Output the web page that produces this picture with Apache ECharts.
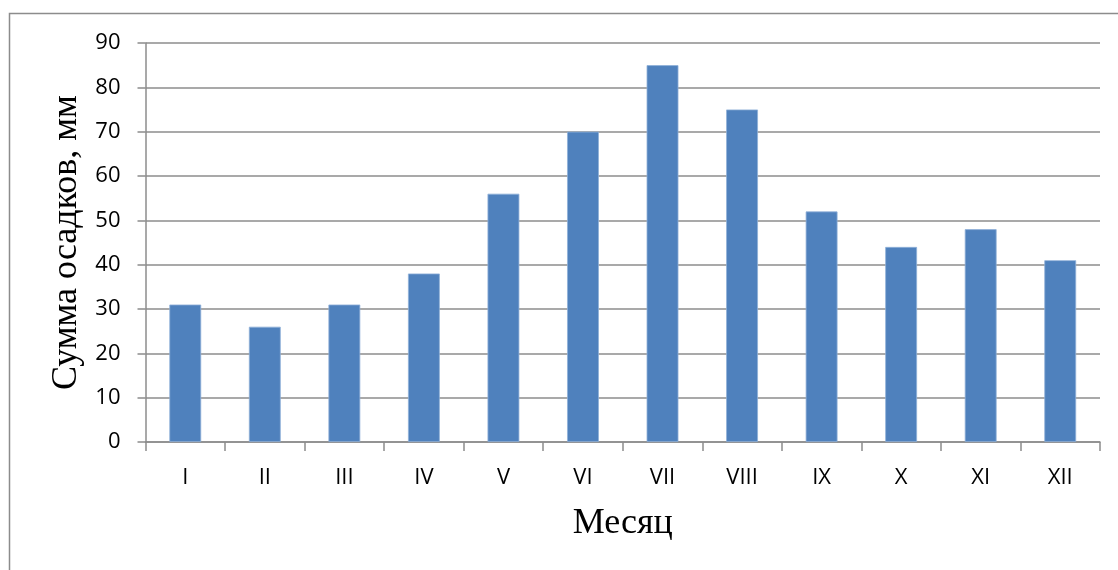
<!DOCTYPE html>
<html>
<head>
<meta charset="utf-8">
<style>
html,body{margin:0;padding:0;background:#fff;}
#chart{width:1118px;height:570px;}
</style>
<script src="https://cdn.jsdelivr.net/npm/echarts@6/dist/echarts.min.js"></script>
</head>
<body>
<div id="chart"></div>
<script>
const months = ['I','II','III','IV','V','VI','VII','VIII','IX','X','XI','XII'];
const precipitation = [31, 26, 31, 38, 56, 70, 85, 75, 52, 44, 48, 41];
const yTitle = 'Сумма осадков, мм';
const xTitle = 'Месяц';

const chart = echarts.init(document.getElementById('chart'), null, {renderer: 'canvas'});
const gray = '#8c8c8c';
chart.setOption({
  animation: false,
  backgroundColor: '#fff',
  grid: {left: 145.5, right: 18, top: 43, bottom: 128, containLabel: false},
  graphic: [{
    type: 'polyline',
    shape: {points: [[9.5, 575], [9.5, 13.5], [1125, 13.5]]},
    style: {stroke: gray, lineWidth: 1.5, fill: null},
    silent: true
  }],
  xAxis: {
    type: 'category',
    data: months,
    name: xTitle,
    nameLocation: 'middle',
    nameGap: 64,
    nameTextStyle: {fontFamily: 'Liberation Serif', fontSize: 36, color: '#000'},
    axisLine: {show: true, lineStyle: {color: gray, width: 1.5}},
    axisTick: {show: true, length: 9, lineStyle: {color: gray, width: 1.5}},
    axisLabel: {margin: 25, fontFamily: 'Open Sans', fontSize: 22, color: '#000'},
    splitLine: {show: false}
  },
  yAxis: {
    type: 'value',
    min: 0, max: 90, interval: 10,
    name: yTitle,
    nameLocation: 'middle',
    nameGap: 57,
    nameTextStyle: {fontFamily: 'Liberation Serif', fontSize: 36, color: '#000'},
    axisLine: {show: true, lineStyle: {color: gray, width: 1.5}},
    axisTick: {show: true, length: 8, lineStyle: {color: gray, width: 1.5}},
    axisLabel: {margin: 25, fontFamily: 'Open Sans', fontSize: 22, color: '#000'},
    splitLine: {show: true, lineStyle: {color: gray, width: 1.5}}
  },
  series: [{
    type: 'bar',
    data: precipitation,
    barCategoryGap: '60%',
    itemStyle: {color: '#4F81BD', borderColor: '#8fb0d8', borderWidth: 0.8}
  }]
});
</script>
</body>
</html>
